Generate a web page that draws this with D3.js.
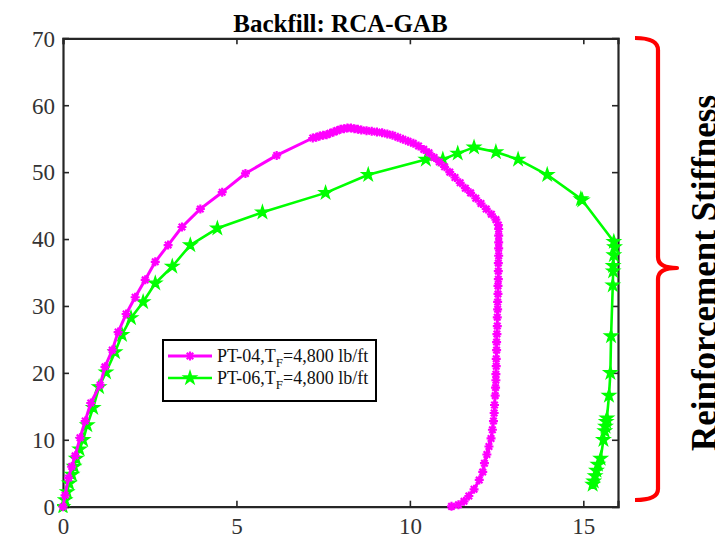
<!DOCTYPE html>
<html>
<head>
<meta charset="utf-8">
<script src="https://cdn.jsdelivr.net/npm/d3@7/dist/d3.min.js"></script>
<style>
  html, body { margin: 0; padding: 0; background: #fff; }
  svg { display: block; }
  text { font-family: "Liberation Serif", "Times New Roman", serif; }
</style>
</head>
<body>
<svg id="chart" width="715" height="535"></svg>
<script>
// ---- data ----
const chartTitle = "Backfill: RCA-GAB";
const sideLabel = "Reinforcement Stiffness";
const xTicks = [0, 5, 10, 15];
const yTicks = [0, 10, 20, 30, 40, 50, 60, 70];
const seriesNames = ["PT-04,T", "PT-06,T"];
const seriesSub = ["F", "F"];
const seriesTail = ["=4,800 lb/ft", "=4,800 lb/ft"];

const pt04X = [0,0.06,0.16,0.25,0.35,0.49,0.64,0.8,1.07,1.21,1.42,1.59,1.82,2.08,2.37,2.66,3.03,3.43,3.96,4.59,5.26,6.16,7.2,
  7.3,7.4,7.5,7.6,7.7,7.8,7.9,8.0,8.1,8.2,8.3,8.4,8.5,8.6,8.75,8.9,9.05,9.2,9.35,9.5,9.65,9.8,9.95,10.1,10.25,10.4,10.55,10.7,10.85,11.0,11.15,11.3,11.45,11.6,11.75,11.9,12.05,12.2,12.35,12.48,12.55,
  12.56,12.56,12.56,12.56,12.56,12.55,12.55,12.55,12.54,12.54,12.53,12.53,12.52,12.52,12.51,12.5,12.5,12.49,12.49,12.48,12.48,12.47,12.46,12.44,12.43,12.41,12.38,12.34,12.28,12.22,12.15,12.1,12.0,11.85,11.7,11.56,11.4,11.2];
const pt04Y = [0,1.7,4.3,6.0,7.6,10.3,12.8,15.5,18.2,20.9,23.4,26.1,28.8,31.3,33.9,36.6,39.1,41.8,44.5,47.0,49.8,52.5,55.1,
  55.2,55.4,55.5,55.6,55.8,56.0,56.2,56.4,56.5,56.6,56.6,56.5,56.4,56.3,56.2,56.1,56.0,55.9,55.7,55.5,55.2,54.9,54.6,54.3,53.9,53.4,52.9,52.2,51.5,50.8,50.0,49.2,48.4,47.6,46.9,46.1,45.3,44.5,43.7,42.9,42.1,
  41.5,40.5,39.5,38.6,37.5,36.4,35.2,34.0,33.0,31.8,30.6,29.5,28.3,27.0,25.8,24.6,23.4,22.1,21.0,19.8,18.9,17.8,16.6,15.2,14.0,12.8,11.5,10.2,9.0,7.8,6.5,5.2,4.0,2.6,1.6,0.8,0.3,0.05];

const pt06X = [0,0.06,0.12,0.18,0.26,0.32,0.38,0.48,0.58,0.7,0.87,1.04,1.24,1.5,1.7,1.96,2.31,2.66,3.15,3.67,4.45,5.75,7.57,8.8,10.46,10.95,11.38,11.85,12.48,13.12,13.96,14.93,14.97,
  15.88,15.9,15.88,15.86,15.86,15.85,15.8,15.78,15.74,15.68,15.66,15.64,15.62,15.58,15.5,15.42,15.38,15.34,15.3,15.27];
const pt06Y = [0,1.0,2.2,3.5,4.8,6.0,7.2,8.6,10.0,12.2,14.8,17.9,20.1,23.1,25.7,28.2,30.6,33.4,35.9,39.1,41.6,44.0,46.9,49.6,51.9,51.9,52.8,53.7,53.0,51.9,49.6,46.0,45.8,
  39.6,38.8,37.6,36.0,35.2,33.1,25.5,20.0,16.6,13.2,12.7,12.0,11.3,10.0,7.2,6.3,5.4,4.6,3.8,3.3];

const seriesColors = ["#ff00ff", "#00ff00"];

// ---- layout ----
const svg = d3.select("#chart");
const L = 63, R = 618, T = 38.3, B = 506.7;
const x = d3.scaleLinear().domain([0, 16]).range([L, R]);
const y = d3.scaleLinear().domain([0, 70]).range([B, T]);
const axisColor = "#262626";

svg.append("defs").append("clipPath").attr("id", "plotclip")
  .append("rect").attr("x", L - 6).attr("y", T - 6).attr("width", R - L + 12).attr("height", B - T + 12);

// axes (inward ticks) with box
const gx = svg.append("g").attr("transform", `translate(0,${B})`)
  .call(d3.axisBottom(x).tickValues(xTicks).tickSize(-6).tickFormat(d3.format("d")));
const gxTop = svg.append("g").attr("transform", `translate(0,${T})`)
  .call(d3.axisTop(x).tickValues(xTicks).tickSize(-6).tickFormat(""));
const gy = svg.append("g").attr("transform", `translate(${L},0)`)
  .call(d3.axisLeft(y).tickValues(yTicks).tickSize(-6).tickPadding(8).tickFormat(d3.format("d")));
const gyR = svg.append("g").attr("transform", `translate(${R},0)`)
  .call(d3.axisRight(y).tickValues(yTicks).tickSize(-6).tickFormat(""));

[gx, gxTop, gy, gyR].forEach(g => {
  g.select(".domain").attr("stroke", axisColor).attr("stroke-width", 2.2);
  g.selectAll(".tick line").attr("stroke", axisColor).attr("stroke-width", 1.6);
  g.selectAll(".tick text").attr("fill", "#333").style("font-size", "23px")
    .style("font-family", "'Liberation Serif','Times New Roman',serif");
});
gx.selectAll(".tick text").attr("dy", "0").attr("y", 27.5);
gy.selectAll(".tick text").attr("dy", "0.34em");

// title
svg.append("text").attr("x", (L + R) / 2).attr("y", 32).attr("text-anchor", "middle")
  .style("font-size", "25px").style("font-weight", "bold").attr("fill", "#000").text(chartTitle);

// series
const plot = svg.append("g").attr("clip-path", "url(#plotclip)");
const line = d3.line().x(d => x(d[0])).y(d => y(d[1]));
const s04 = pt04X.map((v, i) => [v, pt04Y[i]]);
const s06 = pt06X.map((v, i) => [v, pt06Y[i]]);

function asterisk(s) {
  const a = s * 0.72;
  return `M${-s},0L${s},0M0,${-s}L0,${s}M${-a},${-a}L${a},${a}M${-a},${a}L${a},${-a}`;
}
const starPath = d3.symbol().type(d3.symbolStar).size(50)();

plot.append("path").datum(s06).attr("d", line).attr("fill", "none")
  .attr("stroke", seriesColors[1]).attr("stroke-width", 2.6).attr("stroke-linejoin", "round");
plot.selectAll(".m06").data(s06).enter().append("path")
  .attr("transform", d => `translate(${x(d[0])},${y(d[1])})`)
  .attr("d", starPath).attr("fill", seriesColors[1]).attr("stroke", seriesColors[1]).attr("stroke-width", 1.4);

plot.append("path").datum(s04).attr("d", line).attr("fill", "none")
  .attr("stroke", seriesColors[0]).attr("stroke-width", 3).attr("stroke-linejoin", "round");
plot.selectAll(".m04").data(s04).enter().append("path")
  .attr("transform", d => `translate(${x(d[0])},${y(d[1])})`)
  .attr("d", asterisk(4.5)).attr("fill", "none").attr("stroke", seriesColors[0]).attr("stroke-width", 2.2);

// legend
const lg = svg.append("g");
lg.append("rect").attr("x", 163).attr("y", 340).attr("width", 213).attr("height", 61)
  .attr("fill", "#fff").attr("stroke", "#000").attr("stroke-width", 2);
const rowsY = [356, 378];
seriesNames.forEach((name, i) => {
  const yy = rowsY[i];
  lg.append("line").attr("x1", 168).attr("x2", 212).attr("y1", yy).attr("y2", yy)
    .attr("stroke", seriesColors[i]).attr("stroke-width", i === 0 ? 3 : 2.6);
  if (i === 0) {
    lg.append("path").attr("transform", `translate(190,${yy})`).attr("d", asterisk(4.5))
      .attr("fill", "none").attr("stroke", seriesColors[0]).attr("stroke-width", 2.2);
  } else {
    lg.append("path").attr("transform", `translate(190,${yy})`).attr("d", starPath)
      .attr("fill", seriesColors[1]).attr("stroke", seriesColors[1]).attr("stroke-width", 1.4);
  }
  const t = lg.append("text").attr("x", 217).attr("y", yy + 6).style("font-size", "18px").attr("fill", "#111");
  t.append("tspan").text(name);
  t.append("tspan").attr("dy", 5).style("font-size", "13px").text(seriesSub[i]);
  t.append("tspan").attr("dy", -5).text(seriesTail[i]);
});

// red brace
svg.append("path")
  .attr("d", "M635,38 Q658,38 658,50 L658,257 Q658,268 677,268 Q658,268 658,279 L658,489 Q658,500 635,500")
  .attr("fill", "none").attr("stroke", "#ff0000").attr("stroke-width", 4.2).attr("stroke-linejoin", "round");

// side label
svg.append("text").attr("transform", "translate(716,273) rotate(-90)").attr("text-anchor", "middle")
  .style("font-size", "35px").style("font-weight", "bold").attr("fill", "#000").text(sideLabel);
</script>
</body>
</html>
